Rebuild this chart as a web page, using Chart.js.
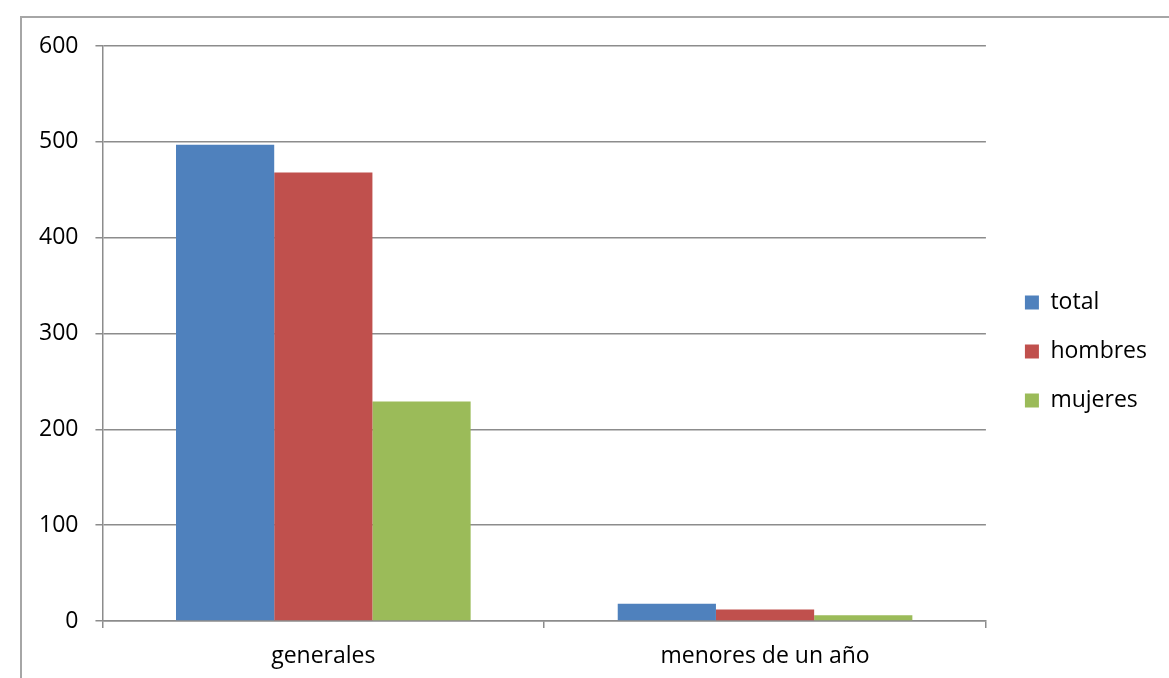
<!DOCTYPE html>
<html>
<head>
<meta charset="utf-8">
<script src="https://cdn.jsdelivr.net/npm/chart.js@4/dist/chart.umd.min.js"></script>
<style>
  html, body { margin: 0; padding: 0; background: #fff; }
  #wrap { position: relative; width: 1169px; height: 678px; overflow: hidden; }
  #frame { position: absolute; left: 20px; top: 16px; width: 1200px; height: 700px;
           border-left: 2px solid #a6a6a6; border-top: 2px solid #a6a6a6; }
  canvas { position: absolute; left: 0; top: 0; }
</style>
</head>
<body>
<div id="wrap">
  <div id="frame"></div>
  <canvas id="chart1" width="1169" height="678"></canvas>
</div>
<script>
// categories and series
var categories = ["generales", "menores de un año"];
var total = [497, 18];
var hombres = [468, 12];
var mujeres = [229, 6];
var yTicks = [0, 100, 200, 300, 400, 500, 600];

var gridGrey = '#8c8c8c';
var labelFont = { family: 'Open Sans', size: 23 };

const data = {
  labels: categories,
  datasets: [{
    label: 'total',
    data: total,
    backgroundColor: '#4f81bd'
  },
  {
    label: 'hombres',
    data: hombres,
    backgroundColor: '#c0504d'
  },
  {
    label: 'mujeres',
    data: mujeres,
    backgroundColor: '#9bbb59'
  }]
};

// empty axes only used as spacers around the plot
function spacer(pos, size){
  return {
    type: 'linear',
    position: pos,
    display: true,
    grid: { display: false },
    ticks: { display: false },
    border: { display: false },
    afterFit: function(scale) {
      if (pos == 'top') scale.height = size; else scale.width = size;
    }
  };
}

const config = {
  type: 'bar',
  data: data,
  options: {
    responsive: false,
    animation: false,
    devicePixelRatio: 1,
    layout: {
      padding: { left: 22, top: 25, right: 12, bottom: 0 }
    },
    datasets: {
      bar: {
        categoryPercentage: 0.667,
        barPercentage: 1.0
      }
    },
    scales: {
      x: {
        grid: {
          offset: true,
          drawOnChartArea: false,
          drawTicks: true,
          tickLength: 7,
          color: gridGrey,
          lineWidth: 1.5
        },
        border: { color: gridGrey, width: 1.5 },
        ticks: {
          color: '#000',
          padding: 15,
          font: labelFont
        },
        afterFit: function(scale) { scale.height = 57; }
      },
      y: {
        min: 0,
        max: 600,
        afterBuildTicks: function(scale) {
          scale.ticks = yTicks.map(v => ({ value: v }));
        },
        grid: {
          drawTicks: true,
          tickLength: 7,
          color: gridGrey,
          lineWidth: 1.5
        },
        border: { color: gridGrey, width: 1.5 },
        ticks: {
          color: '#000',
          padding: 17,
          font: labelFont
        }
      },
      gapRight: spacer('right', 13),
      gapTop: spacer('top', 21)
    },
    plugins: {
      legend: {
        position: 'right',
        labels: {
          color: '#000',
          boxWidth: 14,
          boxHeight: 14,
          padding: 26,
          font: labelFont
        }
      },
      tooltip: { enabled: false }
    }
  }
};

function makegraph(){
  var ctx = document.getElementById('chart1');
  var chart = new Chart(ctx, config);
  return chart;
}
makegraph();
</script>
</body>
</html>
